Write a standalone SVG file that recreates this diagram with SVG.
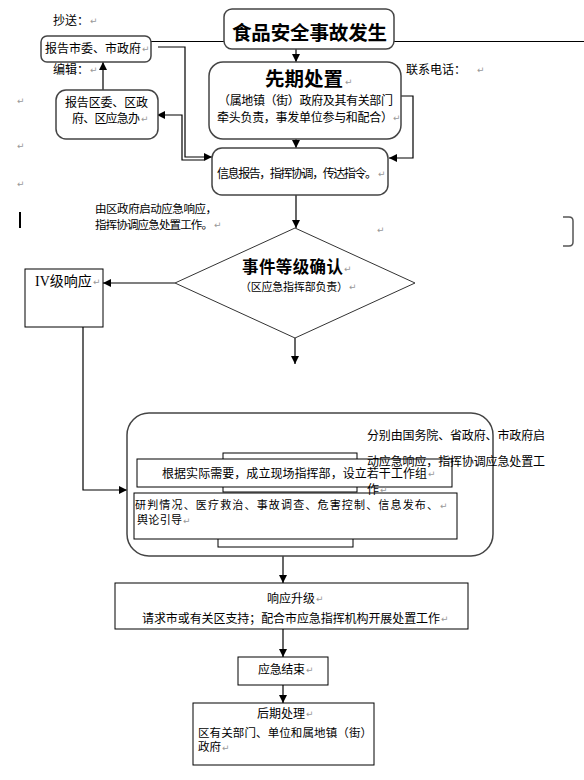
<svg xmlns="http://www.w3.org/2000/svg" width="584" height="780" viewBox="0 0 584 780">
<style>
text{font-family:"Noto Sans CJK SC","Noto Sans",sans-serif;font-size:12px;fill:#000}
.pm{font-family:"DejaVu Sans",sans-serif;font-size:9px;fill:#999}
.rb{fill:#fff;stroke:#444;stroke-width:1.5}
.sq{fill:#fff;stroke:#000;stroke-width:1}
.ln{fill:none;stroke:#000;stroke-width:1.2}
.h1{font-size:19.5px;font-weight:bold}
.h2{font-size:16.5px;font-weight:bold}
.s115{font-size:11.5px}
.s11{font-size:11px}
.s14{font-size:14px}
.ser{font-family:"Liberation Serif",serif}
</style>
<defs>
<marker id="ah" viewBox="0 0 10 10" refX="10" refY="5" markerWidth="8" markerHeight="8" markerUnits="userSpaceOnUse" orient="auto"><path d="M0,0 L10,5 L0,10 z" fill="#000"/></marker>
</defs>
<rect width="584" height="780" fill="#fff"/>

<g id="notes">
<text x="53" y="24.5">抄送：</text><text class="pm" x="90" y="24">↵</text>
<text x="53" y="73.5">编辑：</text><text class="pm" x="90" y="73">↵</text>
<text x="406" y="73.5">联系电话：</text><text class="pm" x="477" y="73">↵</text>
<text class="pm" x="17" y="104">↵</text>
<text class="pm" x="17" y="149">↵</text>
<text class="pm" x="17" y="187">↵</text>
<text class="pm" x="377" y="233">↵</text>
<rect x="19" y="212" width="2" height="16" fill="#000"/>
<path d="M563,217 H569 Q573,217 573,221 V242 Q573,246 569,246 H563" fill="none" stroke="#555" stroke-width="1.5"/>
<text class="s115" x="95" y="213" textLength="122">由区政府启动应急响应，</text>
<text class="s115" x="95" y="228.5" textLength="118">指挥协调应急处置工作。</text><text class="pm" x="214" y="228">↵</text>
</g>

<g id="connectors">
<line class="ln" x1="151" y1="41.5" x2="584" y2="41.5"/>
<line class="ln" x1="296" y1="49" x2="296" y2="62" marker-end="url(#ah)"/>
<line class="ln" x1="296" y1="139" x2="296" y2="148" marker-end="url(#ah)"/>
<path class="ln" d="M158,47 H185 V157 H212" marker-end="url(#ah)"/>
<path class="ln" d="M204,160 H182 V115 H157" marker-end="url(#ah)"/>
<path class="ln" d="M401,96 H413 V158 H389" marker-end="url(#ah)"/>
<line class="ln" x1="103" y1="90" x2="103" y2="62" marker-end="url(#ah)"/>
<line class="ln" x1="296" y1="195" x2="296" y2="228" marker-end="url(#ah)"/>
<line class="ln" x1="175" y1="283" x2="103" y2="283" marker-end="url(#ah)"/>
<line class="ln" x1="295" y1="338" x2="295" y2="364" marker-end="url(#ah)"/>
<path class="ln" d="M83,320 V490 H127" marker-end="url(#ah)"/>
<line class="ln" x1="283" y1="556" x2="283" y2="583" marker-end="url(#ah)"/>
<line class="ln" x1="283" y1="629" x2="283" y2="657" marker-end="url(#ah)"/>
<line class="ln" x1="283" y1="685" x2="283" y2="703" marker-end="url(#ah)"/>
</g>

<g id="n-report-city">
<rect class="rb" x="41" y="36" width="110" height="26" rx="6"/>
<text x="45" y="52.5" textLength="96">报告市委、市政府</text><text class="pm" x="142" y="52">↵</text>
</g>

<g id="n-report-district">
<rect class="rb" x="56" y="90" width="102" height="49" rx="10"/>
<text x="65" y="106.5" textLength="83">报告区委、区政</text>
<text x="72" y="122.5" textLength="68">府、区应急办</text><text class="pm" x="141" y="122">↵</text>
</g>

<g id="n-title">
<rect class="rb" x="224" y="9" width="170" height="40" rx="8"/>
<text class="h1" x="232" y="40" textLength="155">食品安全事故发生</text>
</g>

<g id="n-initial">
<rect class="rb" x="209" y="62" width="192" height="77" rx="14"/>
<text class="h1" x="265" y="86" textLength="78">先期处置</text><text class="pm" x="345" y="85">↵</text>
<text x="218" y="105" textLength="175">（属地镇（街）政府及其有关部门</text>
<text x="217" y="121.5" textLength="176">牵头负责，事发单位参与和配合）</text><text class="pm" x="393" y="121">↵</text>
</g>

<g id="n-info">
<rect class="rb" x="212" y="148" width="176" height="47" rx="10"/>
<text x="217" y="177.5" textLength="160">信息报告，指挥协调，传达指令。</text><text class="pm" x="378" y="177">↵</text>
</g>

<g id="n-level">
<polygon points="295,228 415,283 295,338 175,283" fill="#fff" stroke="#333" stroke-width="1"/>
<text class="h2" x="242" y="273" textLength="101">事件等级确认</text><text class="pm" x="344" y="272">↵</text>
<text class="s11" x="240" y="290.5" textLength="108">（区应急指挥部负责）</text><text class="pm" x="349" y="290">↵</text>
</g>

<g id="n-level4">
<rect class="sq" x="25" y="269" width="78" height="58"/>
<text class="s14" x="35" y="286"><tspan class="ser">IV</tspan>级响应</text><text class="pm" x="93" y="285">↵</text>
</g>

<g id="n-upper">
<rect class="rb" x="127" y="413" width="366" height="143" rx="22"/>
<rect class="sq" x="223" y="453" width="134" height="39"/>
<rect class="sq" x="218" y="500" width="135" height="47"/>
<rect class="sq" x="137" y="459" width="315" height="28"/>
<text x="162" y="477.5" textLength="265">根据实际需要，成立现场指挥部，设立若干工作组</text><text class="pm" x="428" y="477">↵</text>
<rect class="sq" x="134" y="493" width="323" height="46"/>
<text class="s11" x="135" y="508.5" textLength="303">研判情况、医疗救治、事故调查、危害控制、信息发布、</text><text class="pm" x="440" y="508.5">↵</text>
<text class="s11" x="137" y="524" textLength="45">舆论引导</text><text class="pm" x="183" y="524">↵</text>
<text x="367" y="439.5" textLength="178">分别由国务院、省政府、市政府启</text>
<text x="367" y="465.5" textLength="178">动应急响应，指挥协调应急处置工</text>
<text x="367" y="493.5">作</text><text class="pm" x="380" y="493">↵</text>
</g>

<g id="n-upgrade">
<rect class="sq" x="115" y="583" width="353" height="46"/>
<text x="267" y="602.5" textLength="48">响应升级</text><text class="pm" x="316" y="602">↵</text>
<text x="142" y="622.5" textLength="298">请求市或有关区支持；配合市应急指挥机构开展处置工作</text><text class="pm" x="441" y="622">↵</text>
</g>

<g id="n-end">
<rect class="sq" x="238" y="657" width="90" height="28"/>
<text x="258" y="673.5" textLength="47">应急结束</text><text class="pm" x="306" y="673">↵</text>
</g>

<g id="n-post">
<rect class="sq" x="193" y="703" width="181" height="62"/>
<text x="257" y="717.5" textLength="48">后期处理</text><text class="pm" x="306" y="717">↵</text>
<text class="s115" x="198" y="736.5" textLength="174">区有关部门、单位和属地镇（街）</text>
<text class="s115" x="198" y="751">政府</text><text class="pm" x="222" y="750.5">↵</text>
</g>
</svg>
